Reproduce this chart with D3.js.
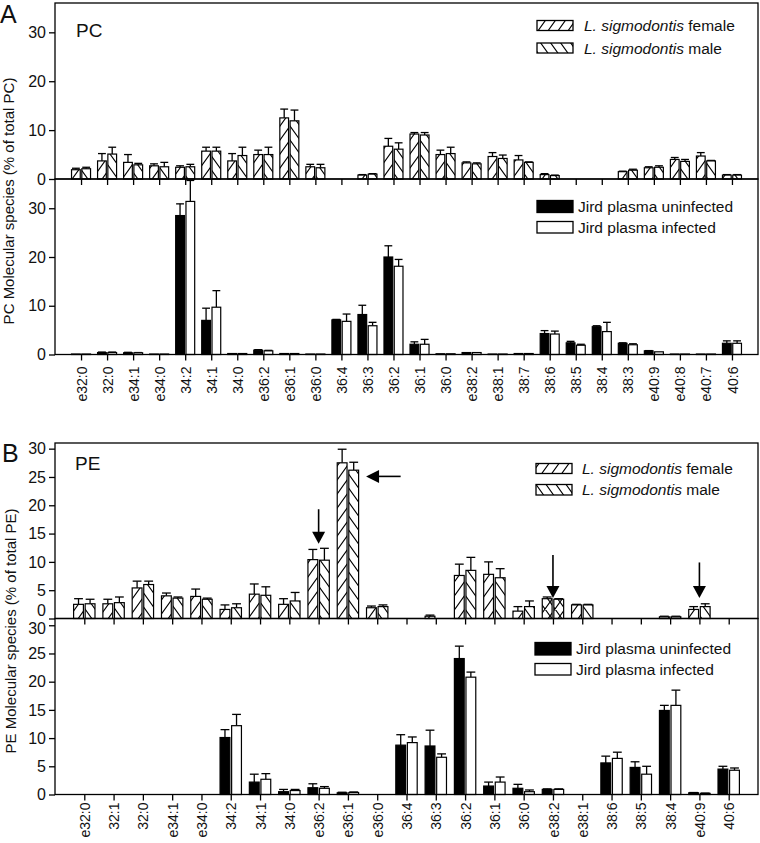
<!DOCTYPE html>
<html>
<head>
<meta charset="utf-8">
<script src="https://cdn.jsdelivr.net/npm/d3@7/dist/d3.min.js"></script>
<style>
  body { margin: 0; background: #fff; }
  svg { display: block; font-family: Arial, "Liberation Sans", Helvetica, sans-serif; }
</style>
</head>
<body>
<svg id="chart" width="760" height="843"></svg>
<script>
// ---- data ----
const pcCats = ["e32:0","32:0","e34:1","e34:0","34:2","34:1","34:0","e36:2","e36:1","e36:0",
  "36:4","36:3","36:2","36:1","36:0","e38:2","e38:1","38:7","38:6","38:5","38:4","38:3",
  "e40:9","e40:8","e40:7","40:6"];
const pcFemale    = [1.9,3.7,3.4,2.7,2.4,5.7,3.7,5.0,12.5,2.5,0,0.8,6.7,9.2,5.0,3.3,4.6,3.9,0.9,0,0,1.5,2.3,4.0,4.7,0.8];
const pcFemaleSE  = [0.3,1.5,1.6,0.4,0.3,0.8,1.5,0.9,1.8,0.5,0,0.1,1.6,0.3,0.9,0.2,0.8,0.9,0.2,0,0,0.1,0.2,0.4,0.7,0.1];
const pcMale      = [2.1,5.1,2.9,2.5,2.5,5.7,4.8,5.0,11.9,2.3,0,1.0,6.1,9.0,5.2,3.1,4.2,3.4,0.7,0,0,1.8,2.4,3.6,3.7,0.8];
const pcMaleSE    = [0.3,1.4,0.3,0.9,0.5,0.8,1.7,1.5,2.2,0.7,0,0.1,1.3,0.5,1.3,0.2,0.7,0.1,0.1,0,0,0.2,0.3,0.4,0.1,0.1];
const pcUninf     = [0.1,0.4,0.35,0.1,28.5,7.0,0.2,0.9,0.2,0.1,7.1,8.2,20.0,2.1,0.15,0.4,0.1,0.2,4.3,2.4,5.7,2.3,0.75,0.1,0.1,2.3];
const pcUninfSE   = [0,0.1,0.1,0,2.4,2.5,0,0.1,0,0,0.1,1.9,2.3,0.5,0,0,0,0,0.6,0.3,0.2,0.1,0.05,0,0,0.5];
const pcInf       = [0.1,0.4,0.35,0.1,31.4,9.7,0.2,0.75,0.2,0.1,6.8,5.9,18.1,2.1,0.15,0.4,0.1,0.2,4.2,1.9,4.7,2.0,0.55,0.1,0.1,2.3];
const pcInfSE     = [0,0.1,0.05,0,4.3,3.4,0,0.1,0,0,1.5,0.7,1.4,1.0,0,0,0,0,0.6,0.2,1.9,0.2,0,0,0,0.5];

const peCats = ["e32:0","32:1","32:0","e34:1","e34:0","34:2","34:1","34:0","e36:2","e36:1","e36:0",
  "36:4","36:3","36:2","36:1","36:0","e38:2","e38:1","38:6","38:5","38:4","e40:9","40:6"];
const peFemale    = [2.5,2.6,5.4,4.0,3.9,1.6,4.3,2.5,10.4,27.5,1.9,0,0.4,7.6,7.8,1.3,3.5,2.4,0,0,0.3,1.6,0];
const peFemaleSE  = [1.0,0.8,1.2,0.5,1.3,0.8,1.8,1.0,1.8,2.4,0.3,0,0.2,2.0,2.2,0.8,0.3,0.1,0,0,0.1,0.5,0];
const peMale      = [2.6,2.8,6.0,3.6,3.4,1.9,4.1,3.1,10.3,26.2,2.1,0,0,8.5,7.2,2.1,3.4,2.4,0,0,0.3,2.1,0];
const peMaleSE    = [0.8,1.0,0.6,0.2,0.2,0.7,1.5,1.5,2.1,1.4,0.3,0,0,2.3,1.6,1.0,0.1,0.1,0,0,0.1,0.5,0];
const peUninf     = [0,0,0,0,0,10.1,2.2,0.5,1.2,0.3,0,8.75,8.6,24.1,1.5,1.1,0.9,0,5.6,4.8,14.9,0.3,4.5];
const peUninfSE   = [0,0,0,0,0,1.4,1.4,0.4,0.7,0.1,0,1.85,2.8,2.2,0.7,0.7,0.1,0,1.2,1.0,0.9,0.05,0.5];
const peInf       = [0,0,0,0,0,12.2,2.7,0.7,1.1,0.35,0,9.2,6.6,20.8,2.2,0.5,0.9,0,6.4,3.6,15.8,0.2,4.3];
const peInfSE     = [0,0,0,0,0,2.0,1.0,0.2,0.3,0.1,0,1.0,0.6,0.9,0.9,0.3,0.1,0,1.1,1.4,2.7,0.05,0.4];
const peCrossHatched = ["e38:2"];

const pcTicks = [0, 10, 20, 30];
const peTicks = [0, 5, 10, 15, 20, 25, 30];

// arrows in panel B (category, from value, to value) and the horizontal one
const peDownArrows = [
  { cat: "e36:2", from: 19.3, to: 13.2 },
  { cat: "e38:2", from: 11.2, to: 3.6 },
  { cat: "e40:9", from: 9.9, to: 3.6 }
];
const peSideArrow = { cat: "e36:1", at: 25.1, from: 1.8, to: 0.62 }; // x offsets in category units

// ---- drawing ----
const svg = d3.select("#chart");
const defs = svg.append("defs");
const L = 55, R = 758;

function hatchPattern(id, kinds) {
  const w = 10, h = 14;
  const p = defs.append("pattern").attr("id", id)
    .attr("patternUnits", "userSpaceOnUse").attr("width", w).attr("height", h);
  p.append("rect").attr("width", w).attr("height", h).attr("fill", "#fff");
  let d = "";
  if (kinds.includes("f")) d += `M0,${h}L${w},0M-3,4.2L3,-4.2M${w-3},${h+4.2}L${w+3},${h-4.2}`;
  if (kinds.includes("m")) d += `M0,0L${w},${h}M-3,${h-4.2}L3,${h+4.2}M${w-3},-4.2L${w+3},4.2`;
  p.append("path").attr("d", d).attr("stroke", "#000").attr("stroke-width", 1.1).attr("fill", "none");
}
hatchPattern("hf", ["f"]);
hatchPattern("hm", ["m"]);
hatchPattern("hx", ["f", "m"]);

function drawHalf(o) {
  const n = o.cats.length;
  const x = d3.scaleLinear().domain([0, n + 1]).range([L, R]);
  const y = d3.scaleLinear().domain([0, o.yMax]).range([o.y0, o.y1]);
  const step = x(1) - x(0);
  const bw = step * 0.335, gap = step * 0.03;
  const g = svg.append("g");

  const series = [
    { vals: o.s1, se: o.e1, fill: o.f1, dx: -gap - bw },
    { vals: o.s2, se: o.e2, fill: o.f2, dx: gap }
  ];
  series.forEach(s => {
    const items = o.cats.map((c, i) => ({ c, i, v: s.vals[i], e: s.se[i] })).filter(d => d.v > 0);
    const withErr = items.filter(d => d.e > 0);
    g.selectAll(null).data(withErr).enter().append("line")
      .attr("x1", d => x(d.i + 1) + s.dx + bw / 2).attr("x2", d => x(d.i + 1) + s.dx + bw / 2)
      .attr("y1", d => y(d.v)).attr("y2", d => y(d.v + d.e))
      .attr("stroke", "#000").attr("stroke-width", 1.3);
    g.selectAll(null).data(withErr).enter().append("line")
      .attr("x1", d => x(d.i + 1) + s.dx + bw * 0.05).attr("x2", d => x(d.i + 1) + s.dx + bw * 0.95)
      .attr("y1", d => y(d.v + d.e)).attr("y2", d => y(d.v + d.e))
      .attr("stroke", "#000").attr("stroke-width", 1.3);
    g.selectAll(null).data(items).enter().append("rect")
      .attr("x", d => x(d.i + 1) + s.dx)
      .attr("y", d => y(d.v))
      .attr("width", bw)
      .attr("height", d => y(0) - y(d.v))
      .attr("fill", d => (o.cross && o.cross.includes(d.c)) ? "url(#hx)" : s.fill)
      .attr("stroke", "#000").attr("stroke-width", 1.2);
  });

  // frame
  g.append("rect").attr("x", L).attr("y", o.y1).attr("width", R - L).attr("height", o.y0 - o.y1)
    .attr("fill", "none").attr("stroke", "#000").attr("stroke-width", 1.3);

  // y axis
  const ya = g.append("g").attr("transform", `translate(${L},0)`)
    .call(d3.axisLeft(y).tickValues(o.ticks).tickSize(6).tickPadding(3));
  ya.select(".domain").remove();
  ya.selectAll("line").attr("stroke-width", 1.3);
  ya.selectAll("text").attr("font-size", 16).attr("font-family", null).attr("fill", "#111")
    .attr("transform", d => (o.nudge && o.nudge[d]) ? `translate(0,${o.nudge[d]})` : null);

  // x axis
  const xa = g.append("g").attr("transform", `translate(0,${o.y0})`)
    .call(d3.axisBottom(x).tickValues(d3.range(1, n + 1)).tickSize(6)
      .tickFormat(o.labels ? (i => o.cats[i - 1]) : ""));
  xa.select(".domain").remove();
  xa.selectAll("line").attr("stroke-width", 1.3);
  xa.selectAll("text")
    .attr("transform", "rotate(-90)")
    .attr("text-anchor", "end")
    .attr("x", -o.labelGap).attr("y", 0).attr("dy", "0.36em")
    .attr("font-size", 14).attr("font-family", null).attr("fill", "#111");

  return { x, y, g };
}

function legend(x0, rows) {
  rows.forEach(r => {
    svg.append("rect").attr("x", x0).attr("y", r.y).attr("width", 36).attr("height", r.h)
      .attr("fill", r.fill).attr("stroke", "#000").attr("stroke-width", 1.3);
    const t = svg.append("text").attr("x", r.tx).attr("y", r.y + r.h / 2).attr("dy", "0.36em")
      .attr("font-size", 15.5).attr("fill", "#111");
    if (r.italic) {
      t.append("tspan").attr("font-style", "italic").text(r.italic);
      t.append("tspan").text(r.rest);
    } else t.text(r.rest);
  });
}

// Panel A
drawHalf({ cats: pcCats, s1: pcFemale, e1: pcFemaleSE, s2: pcMale, e2: pcMaleSE,
  f1: "url(#hf)", f2: "url(#hm)", yMax: 36, y0: 179, y1: 3, ticks: pcTicks, labels: false });
drawHalf({ cats: pcCats, s1: pcUninf, e1: pcUninfSE, s2: pcInf, e2: pcInfSE,
  f1: "#000", f2: "#fff", yMax: 36, y0: 354.5, y1: 179, ticks: pcTicks, labels: true, labelGap: 12 });

// Panel B
const bTop = drawHalf({ cats: peCats, s1: peFemale, e1: peFemaleSE, s2: peMale, e2: peMaleSE,
  f1: "url(#hf)", f2: "url(#hm)", yMax: 31, y0: 618.5, y1: 443, ticks: peTicks, labels: false,
  cross: peCrossHatched, nudge: { 0: -8.5 } });
drawHalf({ cats: peCats, s1: peUninf, e1: peUninfSE, s2: peInf, e2: peInfSE,
  f1: "#000", f2: "#fff", yMax: 31.2, y0: 794.5, y1: 618.5, ticks: peTicks, labels: true, labelGap: 8,
  nudge: { 30: 3.5 } });

// arrows
peDownArrows.forEach(a => {
  const cx = bTop.x(peCats.indexOf(a.cat) + 1);
  const y1 = bTop.y(a.from), y2 = bTop.y(a.to);
  svg.append("line").attr("x1", cx).attr("x2", cx).attr("y1", y1).attr("y2", y2 - 8)
    .attr("stroke", "#000").attr("stroke-width", 1.6);
  svg.append("path").attr("d", `M${cx - 6.5},${y2 - 12}L${cx + 6.5},${y2 - 12}L${cx},${y2}Z`).attr("fill", "#000");
});
{
  const ci = peCats.indexOf(peSideArrow.cat) + 1;
  const xs = bTop.x(ci + peSideArrow.from), xt = bTop.x(ci + peSideArrow.to);
  const yy = bTop.y(peSideArrow.at);
  svg.append("line").attr("x1", xs).attr("x2", xt + 8).attr("y1", yy).attr("y2", yy)
    .attr("stroke", "#000").attr("stroke-width", 1.6);
  svg.append("path").attr("d", `M${xt + 13},${yy - 6.5}L${xt + 13},${yy + 6.5}L${xt},${yy}Z`).attr("fill", "#000");
}

// legends
legend(537, [
  { y: 20.5, h: 10, fill: "url(#hf)", tx: 584, italic: "L. sigmodontis", rest: " female" },
  { y: 43, h: 10, fill: "url(#hm)", tx: 584, italic: "L. sigmodontis", rest: " male" }
]);
legend(537, [
  { y: 200.5, h: 12, fill: "#000", tx: 578, rest: "Jird plasma uninfected" },
  { y: 221.5, h: 11.5, fill: "#fff", tx: 578, rest: "Jird plasma infected" }
]);
legend(536, [
  { y: 463.5, h: 10, fill: "url(#hf)", tx: 582, italic: "L. sigmodontis", rest: " female" },
  { y: 484.5, h: 10.5, fill: "url(#hm)", tx: 582, italic: "L. sigmodontis", rest: " male" }
]);
legend(535, [
  { y: 642.5, h: 12.5, fill: "#000", tx: 576, rest: "Jird plasma uninfected" },
  { y: 663.5, h: 11.5, fill: "#fff", tx: 576, rest: "Jird plasma infected" }
]);

// titles
svg.append("text").attr("x", 0).attr("y", 23).attr("font-size", 25).attr("fill", "#111").text("A");
svg.append("text").attr("x", 2).attr("y", 462).attr("font-size", 25).attr("fill", "#111").text("B");
svg.append("text").attr("x", 76).attr("y", 37).attr("font-size", 19).attr("fill", "#111").text("PC");
svg.append("text").attr("x", 75).attr("y", 470).attr("font-size", 19).attr("fill", "#111").text("PE");
svg.append("text").attr("transform", "translate(14,201) rotate(-90)").attr("text-anchor", "middle")
  .attr("font-size", 15).attr("fill", "#111").text("PC Molecular species (% of total PC)");
svg.append("text").attr("transform", "translate(16,631) rotate(-90)").attr("text-anchor", "middle")
  .attr("font-size", 15).attr("fill", "#111").text("PE Molecular species (% of total PE)");
</script>
</body>
</html>
